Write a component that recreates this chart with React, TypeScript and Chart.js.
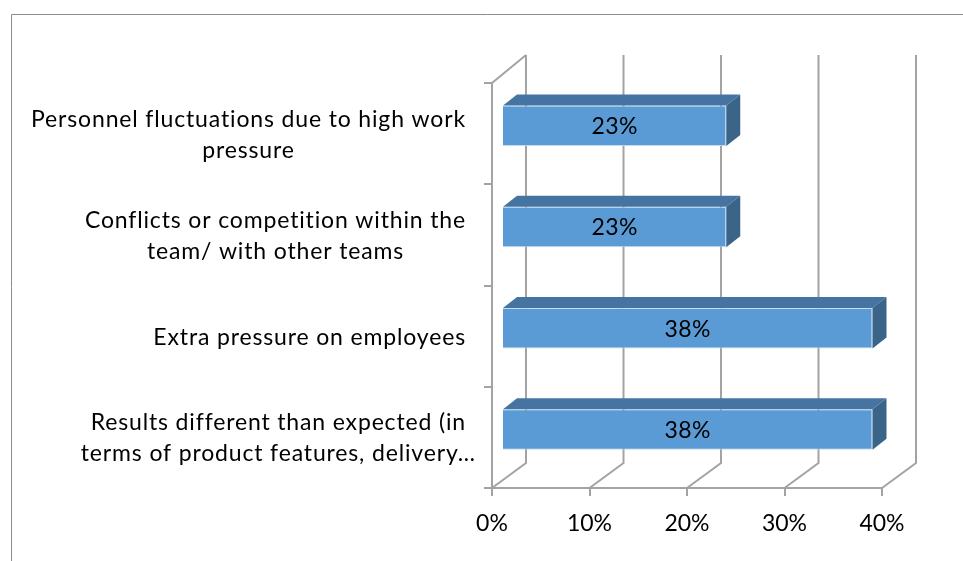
import React, { useEffect, useRef } from "react";
import { Chart, registerables } from "chart.js";

Chart.register(...registerables);

// ---- data ----
const categories: string[][] = [
  ["Personnel fluctuations due to high work", "pressure"],
  ["Conflicts or competition within the", "team/ with other teams"],
  ["Extra pressure on employees"],
  ["Results different than expected (in", "terms of product features, delivery…"],
];
const values: number[] = [23, 23, 38, 38];
const xTickValues: number[] = [0, 10, 20, 30, 40];

// ---- style ----
const FONT = "Lato, 'Open Sans', sans-serif";
const FONT_SIZE = 23;
const LABEL_SPACING = "0.85px";
const FRONT = "#5B9BD5";
const TOP = "#4674A2";
const SIDE = "#3B6489";
const GRID = "#A3A3A3";

// depth of the 3D box (back wall offset) and bar depth placement
const WALL_DX = 34;
const WALL_DY_TOP = -28;
const WALL_DY_BOTTOM = -25;
const BAR_FRONT_DX = 10;
const BAR_FRONT_DY = -8;
const BAR_BACK_DX = 24;
const BAR_BACK_DY = -19;

const depthPlugin = {
  id: "depth3d",
  beforeDraw(chart: any) {
    const ctx = chart.ctx as CanvasRenderingContext2D;
    ctx.save();
    ctx.strokeStyle = "#8C8C8C";
    ctx.lineWidth = 1;
    ctx.beginPath();
    ctx.moveTo(11.5, chart.height);
    ctx.lineTo(11.5, 14.5);
    ctx.lineTo(chart.width, 14.5);
    ctx.stroke();
    ctx.restore();
  },
  beforeDatasetsDraw(chart: any) {
    const ctx = chart.ctx as CanvasRenderingContext2D;
    const a = chart.chartArea;
    const xs = chart.scales.x;
    ctx.save();
    ctx.strokeStyle = GRID;
    ctx.lineWidth = 2;
    ctx.beginPath();
    for (const t of xs.ticks) {
      const px = xs.getPixelForValue(t.value);
      ctx.moveTo(px, a.bottom);
      ctx.lineTo(px + WALL_DX, a.bottom + WALL_DY_BOTTOM);
      ctx.lineTo(px + WALL_DX, a.top + WALL_DY_TOP);
    }
    ctx.moveTo(a.left, a.top);
    ctx.lineTo(a.left + WALL_DX, a.top + WALL_DY_TOP);
    ctx.stroke();
    ctx.restore();
    ctx.save();
    ctx.translate(BAR_FRONT_DX, BAR_FRONT_DY);
  },
  afterDatasetsDraw(chart: any) {
    const ctx = chart.ctx as CanvasRenderingContext2D;
    ctx.restore();
    const meta = chart.getDatasetMeta(0);
    meta.data.forEach((el: any, i: number) => {
      const { x, y, base, height } = el;
      const top = y - height / 2;
      const bottom = y + height / 2;
      const l = Math.min(base, x);
      const r = Math.max(base, x);
      ctx.save();
      ctx.fillStyle = TOP;
      ctx.beginPath();
      ctx.moveTo(l + BAR_FRONT_DX, top + BAR_FRONT_DY);
      ctx.lineTo(r + BAR_FRONT_DX, top + BAR_FRONT_DY);
      ctx.lineTo(r + BAR_BACK_DX, top + BAR_BACK_DY);
      ctx.lineTo(l + BAR_BACK_DX, top + BAR_BACK_DY);
      ctx.closePath();
      ctx.fill();
      ctx.fillStyle = SIDE;
      ctx.beginPath();
      ctx.moveTo(r + BAR_FRONT_DX, top + BAR_FRONT_DY);
      ctx.lineTo(r + BAR_BACK_DX, top + BAR_BACK_DY);
      ctx.lineTo(r + BAR_BACK_DX, bottom + BAR_BACK_DY);
      ctx.lineTo(r + BAR_FRONT_DX, bottom + BAR_FRONT_DY);
      ctx.closePath();
      ctx.fill();
      ctx.fillStyle = "#000";
      ctx.font = `${FONT_SIZE}px ${FONT}`;
      (ctx as any).letterSpacing = "0.4px";
      ctx.textAlign = "center";
      ctx.textBaseline = "middle";
      ctx.fillText(values[i] + "%", (l + r) / 2 + BAR_FRONT_DX, y + BAR_FRONT_DY + 1);
      ctx.restore();
    });
  },
  afterDraw(chart: any) {
    const ctx = chart.ctx as CanvasRenderingContext2D;
    const a = chart.chartArea;
    const ys = chart.scales.y;
    const rightEdge = a.left - 26;
    const lineH = 31;
    ctx.save();
    ctx.fillStyle = "#000";
    ctx.font = `${FONT_SIZE}px ${FONT}`;
    (ctx as any).letterSpacing = LABEL_SPACING;
    ctx.textAlign = "center";
    ctx.textBaseline = "middle";
    categories.forEach((lines, i) => {
      const cy = ys.getPixelForValue(i) + 1;
      const firstW = ctx.measureText(lines[0]).width;
      const cx = rightEdge - firstW / 2;
      const y0 = cy - ((lines.length - 1) * lineH) / 2;
      lines.forEach((s, j) => ctx.fillText(s, cx, y0 + j * lineH));
    });
    ctx.restore();
  },
};

export default function App() {
  const ref = useRef<HTMLCanvasElement | null>(null);
  useEffect(() => {
    document.body.style.margin = "0";
    const canvas = ref.current!;
    const chart = new Chart(canvas, {
      type: "bar",
      data: {
        labels: categories.map((c) => c.join(" ")),
        datasets: [
          {
            data: values,
            backgroundColor: FRONT,
            borderColor: "rgba(190,215,240,0.9)",
            borderWidth: 1,
            categoryPercentage: 1,
            barPercentage: 0.4,
          },
        ],
      },
      options: {
        indexAxis: "y",
        animation: false,
        responsive: false,
        devicePixelRatio: 1,
        layout: { padding: { top: 83, right: 81, left: 0, bottom: 0 } },
        plugins: { legend: { display: false }, tooltip: { enabled: false } },
        scales: {
          x: {
            min: xTickValues[0],
            max: xTickValues[xTickValues.length - 1],
            afterBuildTicks: (s: any) => {
              s.ticks = xTickValues.map((v) => ({ value: v }));
            },
            afterFit: (s: any) => {
              s.height = 73;
            },
            ticks: {
              callback: (v: any) => v + "%",
              color: "#000",
              font: { family: FONT, size: FONT_SIZE },
              padding: 14,
              maxRotation: 0,
            },
            grid: {
              drawOnChartArea: false,
              drawTicks: true,
              tickLength: 8,
              color: GRID,
              lineWidth: 2,
            },
            border: { display: true, color: GRID, width: 2 },
          },
          y: {
            offset: true,
            afterFit: (s: any) => {
              s.width = 492;
            },
            ticks: { display: false },
            grid: {
              offset: true,
              drawOnChartArea: false,
              drawTicks: true,
              tickLength: 8,
              color: GRID,
              lineWidth: 2,
            },
            border: { display: true, color: GRID, width: 2 },
          },
        },
      },
      plugins: [depthPlugin],
    } as any);
    return () => chart.destroy();
  }, []);
  return (
    <div style={{ position: "absolute", left: 0, top: 0, width: 963, height: 561, background: "#fff" }}>
      <canvas ref={ref} width={963} height={561} style={{ display: "block", width: 963, height: 561 }} />
    </div>
  );
}
